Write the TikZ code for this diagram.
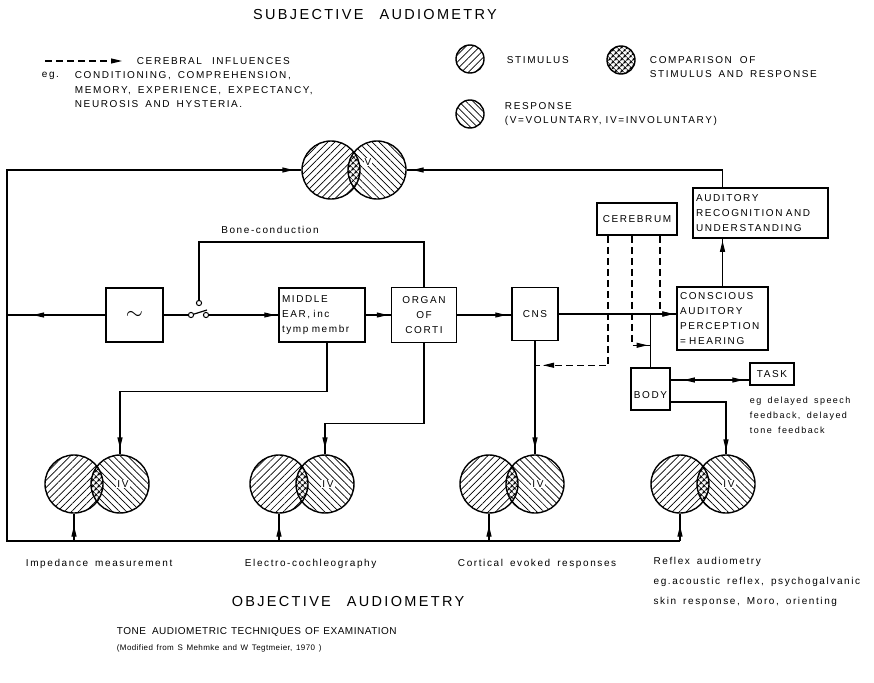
\documentclass[tikz,border=0pt]{standalone}
\usepackage{fontspec}
\setmainfont[LetterSpace=16,WordSpace=1.6]{Liberation Sans}
\newfontfamily\headfont[LetterSpace=16,WordSpace=1.6]{Liberation Sans}
\newfontfamily\notefont[LetterSpace=5,WordSpace=1.4]{Liberation Sans}
\usetikzlibrary{arrows.meta,decorations.markings,patterns.meta}

\tikzset{
  blk/.style={draw, line width=1.5pt, inner sep=3pt, font=\fontsize{10}{15}\selectfont},
  ring/.style={line width=1.4pt},
  stim/.style={circle, minimum size=58pt, inner sep=0pt,
    pattern={Lines[angle=45,distance=5pt,line width=0.7pt]}},
  resp/.style={circle, minimum size=58pt, inner sep=0pt,
    pattern={Lines[angle=-45,distance=5pt,line width=0.7pt]}},
  comp/.style={pattern={Hatch[angle=45,distance=4pt,line width=1.1pt]}},
  vlab/.style={fill=white, inner sep=1pt},
  tip/.tip={Triangle[length=11pt,width=5pt]},
  flow/.style={postaction={decorate}, decoration={markings,
      mark=at position #1 with {\arrow{tip}}}},
  flow/.default=-3pt,
  twoway/.style={postaction={decorate}, decoration={markings,
      mark=at position 13pt with {\arrowreversed{tip}},
      mark=at position -6pt with {\arrow{tip}}}},
  cereb line/.style={dash pattern=on 7pt off 4pt},
  head/.style={font=\headfont\fontsize{14.5}{16}\selectfont}
}

% two overlapping circles: name, x, y, label, label shift
\newcommand{\venn}[5]{%
  \node[stim] (#1s) at ({#2-23},#3) {};
  \node[resp] (#1r) at ({#2+23},#3) {};
  \begin{scope}
    \clip (#1s.center) circle (29);
    \fill[white] (#1r.center) circle (29);
    \fill[comp] (#1r.center) circle (29);
  \end{scope}
  \draw[ring] (#1s.center) circle (29) (#1r.center) circle (29);
  \node[vlab] (#1t) at ([#5]#1r.center) {#4};
}

\begin{document}
\begin{tikzpicture}[x=1pt, y=-1pt, line width=1.2pt, font=\fontsize{10}{14}\selectfont]
  \useasboundingbox (0,0) rectangle (874,682);

  % Titles
  \node[head] (subj) at (375,15) {SUBJECTIVE\hspace{16pt}AUDIOMETRY};
  \node[head] (obj) at (348,601) {OBJECTIVE\hspace{16pt}AUDIOMETRY};
  \node[anchor=west, font=\notefont\fontsize{10}{12}\selectfont] (tone) at (113,632)
    {TONE\hspace{6pt}AUDIOMETRIC\hspace{4pt}TECHNIQUES\hspace{4pt}OF\hspace{4pt}EXAMINATION};
  \node[anchor=west, font=\notefont\fontsize{8}{10}\selectfont] (src) at (113,648)
    {(Modified from S Mehmke and W Tegtmeier, 1970 )};

  % Legend
  \coordinate (lega) at (45,61);
  \node[anchor=west] (cerinf) at (133,61) {CEREBRAL\hspace{10pt}INFLUENCES};
  \draw[cereb line, -tip] (lega) -- ([xshift=-11pt]cerinf.west);
  \node[anchor=west] (eg) at (38,76) {eg.};
  \node[anchor=west, align=left, font=\fontsize{10}{14.5}\selectfont] (cerlist) at (71,90)
    {CONDITIONING, COMPREHENSION,\\MEMORY, EXPERIENCE, EXPECTANCY,\\NEUROSIS AND HYSTERIA.};
  \node[stim, draw, ring, minimum size=28pt] (legs) at (470,59) {};
  \node[anchor=west] (legst) at (503,60) {STIMULUS};
  \begin{scope}
    \clip (621,60) circle (14);
    \fill[white] (621,60) circle (14);
    \fill[comp] (621,60) circle (14);
  \end{scope}
  \node[circle, draw, ring, minimum size=28pt] (legc) at (621,60) {};
  \node[anchor=west, align=left] (legct) at (646,67)
    {COMPARISON\hspace{8pt}OF\\STIMULUS AND RESPONSE};
  \node[resp, draw, ring, minimum size=28pt] (legr) at (470,114) {};
  \node[anchor=west, align=left] (legrt) at (501,114)
    {RESPONSE\\(V=VOLUNTARY,\hspace{4pt}IV=INVOLUNTARY)};

  % Blocks
  \node[blk, minimum width=57pt, minimum height=54pt] (osc) at (134.5,315)
    {\scalebox{2.2}{$\sim$}};
  \node[blk, minimum height=54pt, text width=80pt, align=left] (mid) at (322,315)
    {MIDDLE\\EAR, inc\\tymp membr};
  \node[blk, minimum width=65pt, minimum height=55pt, align=center] (organ) at (424,315)
    {ORGAN\\OF\\CORTI};
  \node[blk, minimum width=46pt, minimum height=53pt] (cns) at (535,314) {CNS};
  \node[blk, minimum height=63pt, text width=85pt, align=left] (consc) at (722.5,318.5)
    {CONSCIOUS\\AUDITORY\\PERCEPTION\\= HEARING};
  \node[blk, minimum height=50pt, text width=129pt, align=left] (recog) at (760.5,213)
    {AUDITORY\\RECOGNITION AND\\UNDERSTANDING};
  \node[blk, minimum width=80pt, minimum height=32pt] (cereb) at (637,219) {CEREBRUM};
  \node[blk, minimum width=39pt, minimum height=42pt] (body) at (650.5,389) {};
  \node[inner sep=0pt] (bodyt) at ([yshift=-6pt]body.center) {BODY};
  \node[blk, minimum width=44pt, minimum height=22pt] (task) at (772,374) {TASK};
  \node[anchor=west, align=left, font=\fontsize{9}{15}\selectfont] (tasknote) at (746,415)
    {eg delayed speech\\feedback, delayed\\tone feedback};

  % Circles
  \venn{v0}{354}{170}{V}{xshift=-9pt,yshift=8pt}
  \venn{v1}{97}{484}{IV}{xshift=3pt}
  \venn{v2}{302}{484}{IV}{xshift=3pt}
  \venn{v3}{512}{484}{IV}{xshift=3pt}
  \venn{v4}{703}{484}{IV}{xshift=3pt}

  % Stimulus lines
  \coordinate (sl) at (7,315);
  \coordinate (bl) at (7,541);
  \draw[flow=-26pt] (osc.west) -- (sl);
  \draw[flow=-8pt] (sl) |- (v0s.west);
  \draw (sl) |- (bl -| v4s);
  \foreach \v in {v1,v2,v3,v4}
    \draw[flow=-12pt] (bl -| \v s) -- (\v s.south);

  % Switch and bone conduction
  \coordinate (sw1) at (191,315);
  \coordinate (sw2) at (206,315);
  \coordinate (sw3) at (199,303);
  \coordinate (bc) at (199,242);
  \draw (osc.east) -- (sw1);
  \draw (sw1) -- ++(16,-5);
  \draw[flow] (sw2) -- (mid.west);
  \draw (sw3) -- (bc) -| (organ.north);
  \foreach \c in {sw1,sw2,sw3}
    \draw[fill=white, line width=1pt] (\c) circle (2.6);
  \node (bone) at (270,230) {Bone-conduction};

  % Hearing path
  \draw[flow] (mid.east) -- (organ.west);
  \draw[flow=-5pt] (organ.east) -- (organ.east -| cns.west);
  \draw[flow] (cns.east) -- (cns.east -| consc.west);
  \draw[flow=-2pt] (consc.north) -- (consc.north |- recog.south);
  \draw[flow=-6pt] (consc.north |- recog.north) |- (v0r.east);

  % Cerebral influences
  \draw[cereb line, flow=-8pt] ([xshift=-29pt]cereb.south) |- ([yshift=-24pt]cns.south);
  \draw[cereb line, flow] ([xshift=-5pt]cereb.south) |- ([yshift=22pt]body.north);
  \draw[cereb line, flow] ([xshift=23pt]cereb.south) |- (cns.east -| consc.west);

  % Body and task
  \draw (body.north) -- (body.north |- cns.east);
  \draw[twoway] ([yshift=9pt]body.east) -- ([yshift=9pt]body.east -| task.west);
  \draw[flow=-4pt] ([yshift=-13pt]body.east) -| (v4r.north);

  % Responses
  \draw[flow=-6pt] ([xshift=5pt]mid.south) -- ++(0,49) -| (v1r.north);
  \draw[flow=-6pt] (organ.south) -- ++(0,80) -| (v2r.north);
  \draw[flow=-6pt] (cns.south) -- (v3r.north);

  % Methods
  \node[anchor=west] (imp) at (22,564) {Impedance measurement};
  \node[anchor=west] (ecog) at (241,564) {Electro-cochleography};
  \node[anchor=west] (cort) at (454,564) {Cortical evoked responses};
  \node[anchor=north west, align=left, inner sep=0pt, font=\fontsize{10}{20}\selectfont] (refl) at (653,557)
    {Reflex audiometry\\eg.acoustic reflex, psychogalvanic\\skin response, Moro, orienting};
\end{tikzpicture}
\end{document}
